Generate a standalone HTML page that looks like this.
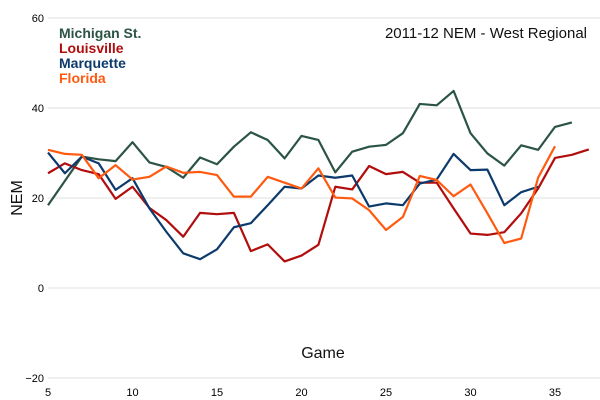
<!DOCTYPE html>
<html><head><meta charset="utf-8"><style>
body{margin:0;background:#fff}
svg{display:block;font-family:"Liberation Sans",sans-serif}
</style></head><body>
<svg id="chart" width="600" height="400" viewBox="0 0 600 400" xmlns="http://www.w3.org/2000/svg">
<g id="grid"></g><g id="ticks"></g><g id="lines"></g>
<text x="587" y="38" text-anchor="end" font-size="15" fill="#111">2011-12 NEM - West Regional</text>
<text x="0" y="0" transform="translate(22,198) rotate(-90)" text-anchor="middle" font-size="16" fill="#111">NEM</text>
<text x="323" y="358" text-anchor="middle" font-size="16" fill="#111">Game</text>
<g font-size="14" font-weight="bold">
<text x="59" y="38" fill="#2b5444">Michigan St.</text>
<text x="59" y="53" fill="#b20d0d">Louisville</text>
<text x="59" y="68" fill="#0d3a6c">Marquette</text>
<text x="59" y="83" fill="#ff5a10">Florida</text>
</g>
</svg>
<script>
const yTicks=[60,40,20,0,-20];
const xTicks=[5,10,15,20,25,30,35];
const seriesNames=["Michigan St.","Louisville","Marquette","Florida"];
const msuStart=5;
const msu=[18.4,23.8,29.2,28.6,28.2,32.4,27.9,26.9,24.5,29,27.5,31.4,34.6,32.9,28.8,33.8,32.9,25.7,30.3,31.4,31.8,34.4,40.9,40.6,43.8,34.4,29.9,27.2,31.7,30.7,35.8,36.8];
const louStart=5;
const lou=[25.5,27.7,26.2,25.3,19.8,22.5,17.8,15.1,11.4,16.7,16.4,16.7,8.2,9.7,5.9,7.2,9.6,22.5,21.9,27.1,25.3,25.8,23.4,23.4,17.7,12.1,11.8,12.4,16.6,22.1,28.9,29.6,30.8];
const marStart=5;
const mar=[30.1,25.5,29.2,27.7,21.8,24.4,17.7,12.5,7.7,6.4,8.6,13.5,14.4,18.4,22.5,22.1,25,24.5,25.0,18.1,18.8,18.4,23.2,24.1,29.8,26.2,26.3,18.4,21.3,22.5];
const flaStart=5;
const fla=[30.7,29.8,29.6,24.4,27.3,24.1,24.7,27,25.6,25.8,25.1,20.3,20.3,24.7,23.4,22.1,26.6,20.1,19.9,17.3,12.9,15.8,24.9,24.0,20.4,23.0,16.6,10,11,24.5,31.5];
const xs=g=>48+16.9*(g-5);
const ys=v=>288-4.5*v;
const NS="http://www.w3.org/2000/svg";
const grid=document.getElementById('grid'),ticks=document.getElementById('ticks'),lines=document.getElementById('lines');
yTicks.forEach(t=>{
 const l=document.createElementNS(NS,'line');
 l.setAttribute('x1',48);l.setAttribute('x2',600);l.setAttribute('y1',ys(t));l.setAttribute('y2',ys(t));
 l.setAttribute('stroke','#efefef');l.setAttribute('stroke-width','2');
 
 
 grid.appendChild(l);
 const tx=document.createElementNS(NS,'text');
 tx.setAttribute('x',44);tx.setAttribute('y',ys(t)+4);tx.setAttribute('text-anchor','end');tx.setAttribute('font-size','11');
 tx.textContent=t<0?'\u2212'+(-t):t;
 
 
 ticks.appendChild(tx);
});
xTicks.forEach(t=>{
 const tx=document.createElementNS(NS,'text');
 tx.setAttribute('x',xs(t));tx.setAttribute('y',396);tx.setAttribute('text-anchor','middle');tx.setAttribute('font-size','11');
 tx.textContent=t;
 
 
 ticks.appendChild(tx);
});
const defs=[[msu,msuStart,'#2b5444','michigan-st-line'],[lou,louStart,'#b20d0d','louisville-line'],[mar,marStart,'#0d3a6c','marquette-line'],[fla,flaStart,'#ff5a10','florida-line']];
defs.forEach(([d,s,c,n])=>{
 const p=document.createElementNS(NS,'polyline');
 p.setAttribute('points',d.map((v,i)=>xs(s+i)+','+ys(v)).join(' '));
 p.setAttribute('fill','none');p.setAttribute('stroke',c);p.setAttribute('stroke-width','2.2');p.setAttribute('stroke-linejoin','round');
 
 
 lines.appendChild(p);
});
</script>
</body></html>
